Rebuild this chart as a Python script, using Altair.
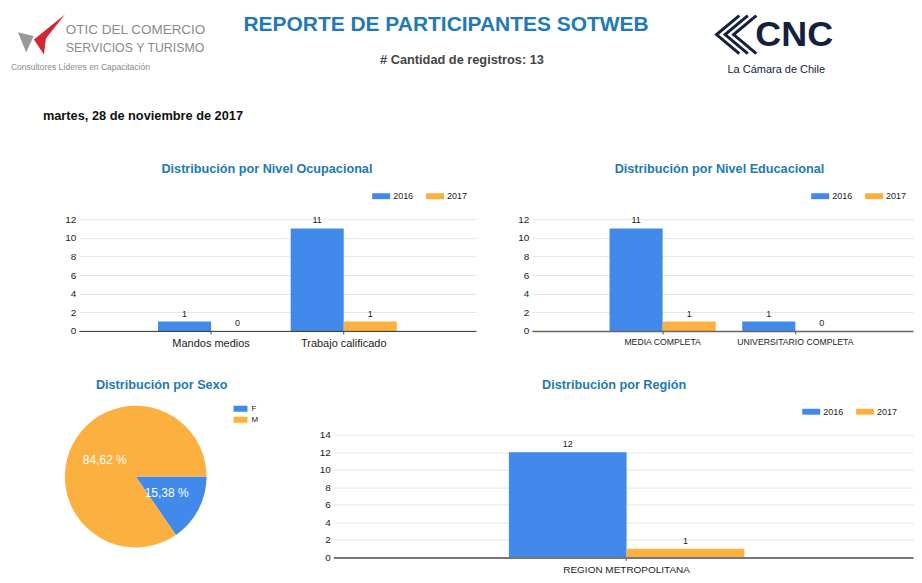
import math
import altair as alt
import pandas as pd

FONT = "Liberation Sans"
TITLE_BLUE = "#2279b5"
BLUE = "#4189ea"
ORANGE = "#fbb03f"
NAVY = "#13213f"

# ---------------- data ----------------
years = ["2016", "2017"]

ocup_cats = ["Mandos medios", "Trabajo calificado"]
ocup_2016 = [1, 11]
ocup_2017 = [0, 1]

edu_cats = ["MEDIA COMPLETA", "UNIVERSITARIO COMPLETA"]
edu_2016 = [11, 1]
edu_2017 = [1, 0]

reg_cats = ["REGION METROPOLITANA"]
reg_2016 = [12]
reg_2017 = [1]

sexo_cats = ["F", "M"]
sexo_vals = [2, 11]

report_title = "REPORTE DE PARTICIPANTES SOTWEB"
record_label = "# Cantidad de registros: 13"
report_date = "martes, 28 de noviembre de 2017"
otic_lines = ["OTIC DEL COMERCIO", "SERVICIOS Y TURISMO", "Consultores Líderes en Capacitación"]
cnc_lines = ["CNC", "La Cámara de Chile"]

chart_titles = [
    "Distribución por Nivel Ocupacional",
    "Distribución por Nivel Educacional",
    "Distribución por Sexo",
    "Distribución por Región",
]


def long_df(cats, v16, v17):
    rows = []
    for c, a, b in zip(cats, v16, v17):
        rows.append({"cat": c, "year": years[0], "n": a})
        rows.append({"cat": c, "year": years[1], "n": b})
    return pd.DataFrame(rows)


BAR_SYMBOL = "M-1,-0.33H1V0.33H-1Z"
PIE_SYMBOL = "M-1,-0.43H1V0.43H-1Z"
# simple logo glyphs (decoration only)
OTIC_RED = "M1,-1L-0.55,0.25L-0.05,1L0.05,0.2Z"
OTIC_GRAY = "M-1,-0.35L0.05,-0.1L-0.45,1Z"
CNC_STRIPES = "M1,-1L-0.2,0L1,1M0.55,-1L-0.65,0L0.55,1M0.1,-1L-1.1,0L0.1,1"


def txt(text, x, y, size, weight="normal", color="#222", align="left", font=FONT):
    return alt.Chart(pd.DataFrame({"t": [text]})).mark_text(
        align=align, baseline="middle", fontSize=size, fontWeight=weight, color=color, font=font
    ).encode(text="t:N", x=alt.value(x), y=alt.value(y))


def glyph(path, x, y, size, color, filled=True, stroke_width=0):
    if filled:
        mark = alt.Chart(pd.DataFrame({"g": [0]})).mark_point(
            shape=path, size=size, filled=True, fill=color, opacity=1, strokeWidth=0
        )
    else:
        mark = alt.Chart(pd.DataFrame({"g": [0]})).mark_point(
            shape=path, size=size, filled=False, stroke=color, opacity=1, strokeWidth=stroke_width
        )
    return mark.encode(x=alt.value(x), y=alt.value(y))


def panel_title(text, x, y):
    return txt(text, x, y, 12.7, weight="bold", color=TITLE_BLUE, align="center")


def bar_chart(cats, v16, v17, title, title_xy, w, h, ymax, yrange, xscale,
              xlab_size, leg_x, leg_y, dom_color, dom_width):
    df = long_df(cats, v16, v17)
    base = alt.Chart(df).encode(
        x=alt.X(
            "cat:N", sort=cats, scale=xscale,
            axis=alt.Axis(
                title=None, labelAngle=0, labelFont=FONT, labelFontSize=xlab_size,
                labelColor="#222", labelPadding=4, domainColor=dom_color,
                domainWidth=dom_width, tickColor="#444", tickSize=3, grid=False, zindex=1,
            ),
        ),
        xOffset=alt.XOffset("year:N", sort=years, scale=alt.Scale(paddingInner=0, paddingOuter=0)),
        y=alt.Y(
            "n:Q", scale=alt.Scale(domain=[0, ymax], nice=False, range=yrange),
            axis=alt.Axis(
                title=None, values=list(range(0, ymax + 1, 2)), grid=True,
                gridColor="#e6e6e6", domain=False, ticks=False, labelFont=FONT,
                labelFontSize=10, labelColor="#222", labelPadding=3,
            ),
        ),
    )
    bars = base.mark_bar().encode(
        color=alt.Color(
            "year:N", sort=years, scale=alt.Scale(domain=years, range=[BLUE, ORANGE]),
            legend=alt.Legend(
                title=None, orient="none", legendX=leg_x, legendY=leg_y,
                direction="horizontal", symbolType=BAR_SYMBOL, symbolSize=324,
                symbolStrokeWidth=0, labelFont=FONT, labelFontSize=9, labelColor="#222",
                labelOffset=3, columnPadding=12, padding=0,
            ),
        )
    )
    labels = base.mark_text(baseline="middle", dy=-8, fontSize=9, color="#222", font=FONT).encode(
        text="n:Q"
    )
    return alt.layer(bars, labels, panel_title(title, *title_xy)).properties(width=w, height=h)


def spacer(w, h):
    # an empty view (no data rows) used only to reserve layout space
    return alt.Chart(alt.Data(values=[])).mark_point().properties(width=w, height=h)


# ---------------- header ----------------
header = alt.layer(
    glyph(OTIC_GRAY, 24, 27, 900, "#9a9a9a"),
    glyph(OTIC_RED, 36, 24, 1600, "#d7262e"),
    txt(otic_lines[0], 57, 19, 13.5, color="#8a8a8a"),
    txt(otic_lines[1], 57, 37, 12.4, color="#8a8a8a"),
    txt(otic_lines[2], 2, 57, 8.5, color="#8a8a8a"),
    txt(report_title, 438, 14, 21, weight="bold", color=TITLE_BLUE, align="center"),
    txt(record_label, 454, 49, 12.8, weight="bold", color="#444", align="center"),
    glyph(CNC_STRIPES, 730, 24, 1444, NAVY, filled=False, stroke_width=3),
    txt(cnc_lines[0], 787, 24, 36, weight="bold", color=NAVY, align="center"),
    txt(cnc_lines[1], 769, 60, 11, color=NAVY, align="center"),
    txt(report_date, 34, 106, 12.8, weight="bold", color="#111"),
).properties(width=906, height=149)

# ---------------- bar charts ----------------
c1 = bar_chart(
    ocup_cats, ocup_2016, ocup_2017, chart_titles[0], (188.5, 8), 398, 170, 12, [170, 58],
    alt.Scale(paddingInner=0.2, paddingOuter=0.597, align=0.5), 11,
    294, 26, "#333", 1,
)
c2 = bar_chart(
    edu_cats, edu_2016, edu_2017, chart_titles[1], (188, 8), 382, 170, 12, [170, 58],
    alt.Scale(paddingInner=0.2, paddingOuter=0.536, align=0.546), 8.7,
    280, 26, "#666", 1.5,
)
c4 = bar_chart(
    reg_cats, reg_2016, reg_2017, chart_titles[3], (281.5, 6), 581, 179, 14, [179, 56],
    alt.Scale(paddingInner=0.2, paddingOuter=0.585, align=0.51), 10,
    470, 24, "#777", 2,
)

# ---------------- pie ----------------
sex_df = pd.DataFrame({"sexo": sexo_cats, "n": sexo_vals})
pie_base = alt.Chart(sex_df).transform_joinaggregate(total="sum(n)").transform_calculate(
    pct="replace(format(datum.n / datum.total * 100, '.2f'), '.', ',') + ' %'"
).encode(
    theta=alt.Theta("n:Q", stack=True, scale=alt.Scale(range=[math.pi / 2, math.pi / 2 + 2 * math.pi])),
    order=alt.Order("sexo:N", sort="ascending"),
)
arcs = pie_base.mark_arc().encode(
    color=alt.Color(
        "sexo:N", sort=sexo_cats, scale=alt.Scale(domain=sexo_cats, range=[BLUE, ORANGE]),
        legend=alt.Legend(
            title=None, orient="none", legendX=169, legendY=23, direction="vertical",
            symbolType=PIE_SYMBOL, symbolSize=196, symbolStrokeWidth=0, labelFont=FONT,
            labelFontSize=8, labelColor="#222", labelOffset=4, rowPadding=0, padding=0,
        ),
    )
)
pie_text = pie_base.mark_text(radius=35, fontSize=12, color="white", font=FONT).encode(
    text="pct:N", detail="sexo:N"
)
pie = alt.layer(arcs, pie_text, panel_title(chart_titles[2], 97, 6)).properties(width=142, height=196)

# ---------------- layout ----------------
def independent(c):
    return c.resolve_scale(color="independent", xOffset="independent").resolve_legend(
        color="independent"
    )


row2 = independent(alt.hconcat(spacer(70, 217), c1, spacer(56, 170), c2, spacing=0, bounds="flush"))
row3 = independent(alt.hconcat(spacer(56, 196), pie, spacer(127, 196), c4, spacing=0, bounds="flush"))

chart = (
    independent(alt.vconcat(header, row2, row3, spacing=0))
    .properties(padding=0)
    .configure(font=FONT)
    .configure_view(stroke="transparent")
)

chart.save("out.html", embed_options={"renderer": "svg", "actions": False})
